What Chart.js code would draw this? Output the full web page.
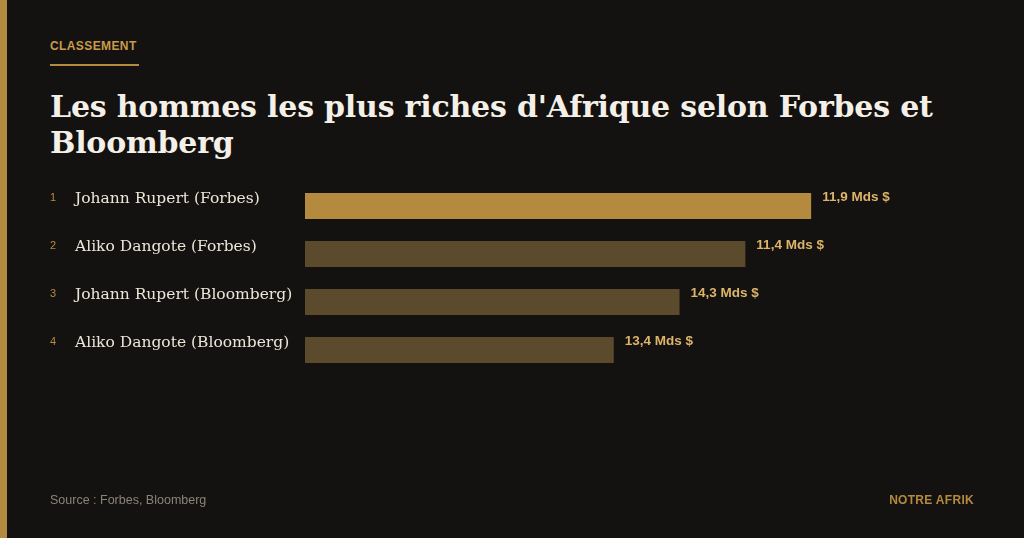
<!DOCTYPE html>
<html><head><meta charset="utf-8">
<script src="https://cdn.jsdelivr.net/npm/chart.js@4"></script>
<style>
html,body{margin:0;padding:0;background:#141210;}
#wrap{position:relative;width:1024px;height:538px;overflow:hidden;background:#141210;}
#strip{position:absolute;left:0;top:0;width:7px;height:538px;background:#b38a3e;}
#kicker{position:absolute;left:50px;top:39px;font:bold 12px "Liberation Sans",Arial,sans-serif;color:#c89b4a;letter-spacing:0.4px;}
#rule{position:absolute;left:50px;top:64px;width:89px;height:2px;background:#b38a3e;}
#title{position:absolute;left:50px;top:89px;width:940px;font:bold 30px "DejaVu Serif",Georgia,serif;line-height:36px;color:#f4f0e8;letter-spacing:-0.2px;}
#source{position:absolute;left:50px;top:493px;font:12.5px "Liberation Sans",Arial,sans-serif;color:#8a8478;}
#brand{position:absolute;right:50px;top:493px;font:bold 12px "Liberation Sans",Arial,sans-serif;color:#b38a3e;letter-spacing:0.3px;}
canvas{position:absolute;left:0;top:0;}
</style></head><body>
<div id="wrap">
<div id="strip"></div>
<div id="kicker">CLASSEMENT</div>
<div id="rule"></div>
<div id="title">Les hommes les plus riches d'Afrique selon Forbes et Bloomberg</div>
<canvas id="c" width="1024" height="538"></canvas>
<div id="source">Source : Forbes, Bloomberg</div>
<div id="brand">NOTRE AFRIK</div>
</div>
<script>
const names = ['Johann Rupert (Forbes)', 'Aliko Dangote (Forbes)', 'Johann Rupert (Bloomberg)', 'Aliko Dangote (Bloomberg)'];
const barLengths = [100, 87, 74, 61];
const valueLabels = ['11,9 Mds $', '11,4 Mds $', '14,3 Mds $', '13,4 Mds $'];
const barColors = ['#b38a3e', '#5c4a2c', '#5c4a2c', '#5c4a2c'];

const labelPlugin = {
  id: 'labels',
  afterDatasetsDraw(chart) {
    const ctx = chart.ctx;
    const meta = chart.getDatasetMeta(0);
    meta.data.forEach((bar, i) => {
      const y = bar.y;
      ctx.save();
      ctx.textBaseline = 'middle';
      ctx.fillStyle = '#b38a3e';
      ctx.font = '11px "Liberation Sans", Arial, sans-serif';
      ctx.fillText(String(i + 1), 50, y - 8);
      ctx.fillStyle = '#ece6da';
      ctx.font = '15.5px "DejaVu Serif", Georgia, serif';
      ctx.fillText(names[i], 75, y - 7);
      ctx.fillStyle = '#dcb46a';
      ctx.font = 'bold 13.5px "Liberation Sans", Arial, sans-serif';
      ctx.fillText(valueLabels[i], bar.x + 11, y - 9);
      ctx.restore();
    });
  }
};

new Chart(document.getElementById('c'), {
  type: 'bar',
  data: {
    labels: names,
    datasets: [{ data: barLengths, backgroundColor: barColors, borderWidth: 0, barPercentage: 0.54, categoryPercentage: 1 }]
  },
  options: {
    indexAxis: 'y',
    responsive: false,
    animation: false,
    layout: { padding: { left: 305, right: 61, top: 182, bottom: 164 } },
    plugins: { legend: { display: false }, tooltip: { enabled: false } },
    scales: {
      x: { display: false, min: 0, max: 130 },
      y: { display: false }
    }
  },
  plugins: [labelPlugin]
});
</script>
</body></html>
